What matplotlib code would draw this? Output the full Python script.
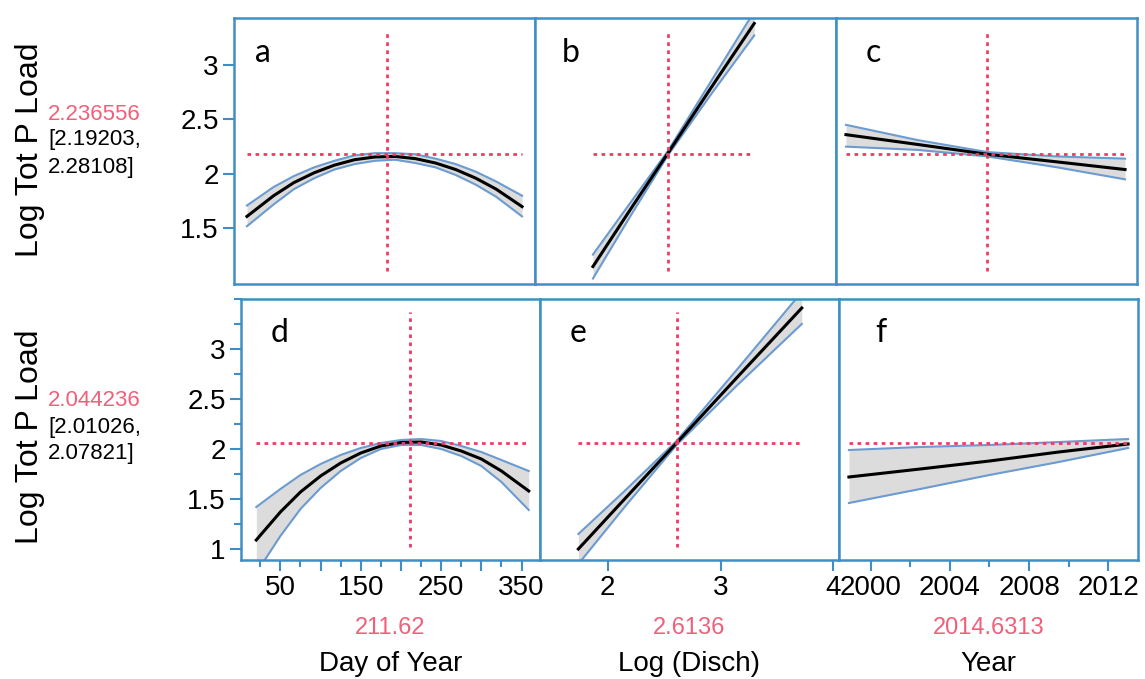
import numpy as np
import matplotlib.pyplot as plt
from matplotlib.ticker import MultipleLocator, FixedLocator

plt.rcParams['font.family'] = ['Liberation Sans', 'DejaVu Sans']

# ---- data ----
# Day of Year
day_top = [17, 50, 75, 100, 125, 150, 175, 200, 225, 250, 275, 300, 325, 357]
a_fit = [1.61, 1.80, 1.92, 2.01, 2.08, 2.13, 2.155, 2.16, 2.14, 2.10, 2.04, 1.96, 1.86, 1.70]
a_hi = [1.71, 1.88, 1.98, 2.06, 2.12, 2.17, 2.19, 2.19, 2.18, 2.14, 2.09, 2.02, 1.93, 1.80]
a_lo = [1.52, 1.72, 1.86, 1.96, 2.04, 2.09, 2.12, 2.13, 2.10, 2.06, 1.99, 1.90, 1.79, 1.61]

day_bot = [20, 50, 75, 100, 125, 150, 175, 200, 225, 250, 275, 300, 325, 359]
d_fit = [1.09, 1.37, 1.57, 1.73, 1.86, 1.96, 2.03, 2.065, 2.07, 2.04, 1.98, 1.90, 1.78, 1.58]
d_hi = [1.42, 1.60, 1.74, 1.85, 1.94, 2.01, 2.06, 2.09, 2.10, 2.08, 2.03, 1.97, 1.89, 1.78]
d_lo = [0.76, 1.13, 1.40, 1.61, 1.78, 1.91, 2.00, 2.04, 2.04, 2.00, 1.93, 1.83, 1.67, 1.39]

# Log (Disch)
disch_top = [1.91, 2.25, 2.57, 2.95, 3.33]
b_fit = [1.15, 1.69, 2.19, 2.79, 3.38]
b_hi = [1.26, 1.75, 2.21, 2.85, 3.49]
b_lo = [1.04, 1.63, 2.17, 2.73, 3.27]

disch_bot = [1.74, 2.15, 2.61, 3.15, 3.72]
e_fit = [1.00, 1.50, 2.06, 2.72, 3.41]
e_hi = [1.15, 1.58, 2.08, 2.80, 3.57]
e_lo = [0.85, 1.42, 2.04, 2.64, 3.25]

# Year
year_top = [1998.9, 2002.5, 2006.0, 2009.5, 2012.9]
c_fit = [2.36, 2.27, 2.18, 2.11, 2.04]
c_hi = [2.45, 2.31, 2.20, 2.16, 2.14]
c_lo = [2.25, 2.22, 2.16, 2.06, 1.95]

year_bot = [1998.9, 2002.5, 2006.0, 2009.5, 2013.0]
f_fit = [1.72, 1.80, 1.88, 1.97, 2.05]
f_hi = [1.99, 2.02, 2.04, 2.07, 2.10]
f_lo = [1.46, 1.60, 1.74, 1.87, 2.01]

# current settings (red cross-hairs)
cur_x_top = [190, 2.57, 2006.0]
cur_y_top = 2.18
cur_x_bot = [211.62, 2.6136, 2014.6313]
cur_y_bot = 2.06

pred_top = ['2.236556', '[2.19203,', '2.28108]']
pred_bot = ['2.044236', '[2.01026,', '2.07821]']
x_names = ['Day of Year', 'Log (Disch)', 'Year']
x_cur_labels = ['211.62', '2.6136', '2014.6313']
letters_top = ['a', 'b', 'c']
letters_bot = ['d', 'e', 'f']

xlims = [(1, 373), (1.40, 4.05), (1998.4, 2013.5)]

blue_frame = '#3f8fc4'
blue_band = '#6b9bd1'
red = '#ee3b62'
red_txt = '#f0607a'
gray = '#dcdcdc'

fig = plt.figure(figsize=(11.45, 6.79), dpi=100)
W, H = 1145, 679


def panel(left, top, right, bottom):
    return fig.add_axes([left / W, 1 - bottom / H, (right - left) / W, (bottom - top) / H])


top_axes = [panel(234 + i * 301, 18, 234 + (i + 1) * 301, 284) for i in range(3)]
bot_axes = [panel(241 + i * 299, 299, 241 + (i + 1) * 299, 560) for i in range(3)]

top_data = [(day_top, a_fit, a_hi, a_lo), (disch_top, b_fit, b_hi, b_lo),
            (year_top, c_fit, c_hi, c_lo)]
bot_data = [(day_bot, d_fit, d_hi, d_lo), (disch_bot, e_fit, e_hi, e_lo),
            (year_bot, f_fit, f_hi, f_lo)]


def draw(ax, data, xc, yc, xlim, ylim, letter, lx):
    x, fit, hi, lo = data
    ax.fill_between(x, lo, hi, color=gray, lw=0, zorder=1)
    ax.plot(x, hi, color=blue_band, lw=1.5, zorder=2)
    ax.plot(x, lo, color=blue_band, lw=1.5, zorder=2)
    ax.plot(x, fit, color='black', lw=2.2, zorder=3)
    ax.plot([x[0], x[-1]], [yc, yc], color=red, lw=2, ls=(0, (1.3, 1.6)), zorder=4)
    if xlim[0] < xc < xlim[1]:
        ax.axvline(xc, ymin=0.05, ymax=0.95, color=red, lw=2, ls=(0, (1.3, 1.6)), zorder=4)
    ax.set_xlim(*xlim)
    ax.set_ylim(*ylim)
    for s in ax.spines.values():
        s.set_color(blue_frame)
        s.set_linewidth(1.8)
    ax.tick_params(colors=blue_frame, labelcolor='black', labelsize=20,
                   direction='out', width=1.5, length=8, pad=3)
    ax.tick_params(which='minor', colors=blue_frame, width=1.5, length=5, direction='out')
    ax.text(lx, 0.87, letter, transform=ax.transAxes, fontsize=23,
            family=['Lato', 'DejaVu Sans'], va='center')


for i, ax in enumerate(top_axes):
    draw(ax, top_data[i], cur_x_top[i], cur_y_top, xlims[i], (0.99, 3.43),
         letters_top[i], [0.07, 0.09, 0.10][i])
    ax.set_xticks([])
    if i == 0:
        ax.set_yticks([1.5, 2, 2.5, 3])
        ax.set_yticklabels(['1.5', '2', '2.5', '3'])
    else:
        ax.set_yticks([])

for i, ax in enumerate(bot_axes):
    draw(ax, bot_data[i], cur_x_bot[i], cur_y_bot, xlims[i], (0.89, 3.5),
         letters_bot[i], [0.10, 0.10, 0.12][i])
    if i == 0:
        ax.set_yticks([1, 1.5, 2, 2.5, 3])
        ax.set_yticklabels(['1', '1.5', '2', '2.5', '3'])
        ax.yaxis.set_minor_locator(MultipleLocator(0.25))
    else:
        ax.set_yticks([])
    ax.text(0.5, -0.26, x_cur_labels[i], transform=ax.transAxes, ha='center',
            va='center', fontsize=17, color=red_txt)
    ax.text(0.5, -0.40, x_names[i], transform=ax.transAxes, ha='center',
            va='center', fontsize=20)

ax = bot_axes[0]
ax.set_xticks([50, 100, 150, 200, 250, 300, 350])
ax.set_xticklabels(['50', '', '150', '', '250', '', '350'])
ax.xaxis.set_minor_locator(FixedLocator([25, 75, 125, 175, 225, 275, 325]))

ax = bot_axes[1]
ax.set_xticks([2, 3, 4])
ax.set_xticklabels(['2', '3', '4'])

ax = bot_axes[2]
ax.set_xticks([2000, 2004, 2008, 2012])
ax.set_xticklabels(['2000', '2004', '2008', '2012'])
ax.xaxis.set_minor_locator(FixedLocator([2002, 2006, 2010]))

# left annotations
for ycen, lines in [(150, pred_top), (437, pred_bot)]:
    fig.text(30 / W, 1 - ycen / H, 'Log Tot P Load', rotation=90, ha='center',
             va='center', fontsize=23)
    fig.text(48 / W, 1 - (ycen - 36) / H, lines[0], color=red_txt, fontsize=16, va='center')
    fig.text(48 / W, 1 - (ycen - 10) / H, lines[1], fontsize=16, va='center')
    fig.text(48 / W, 1 - (ycen + 17) / H, lines[2], fontsize=16, va='center')

fig.savefig('out.png', dpi=100)
